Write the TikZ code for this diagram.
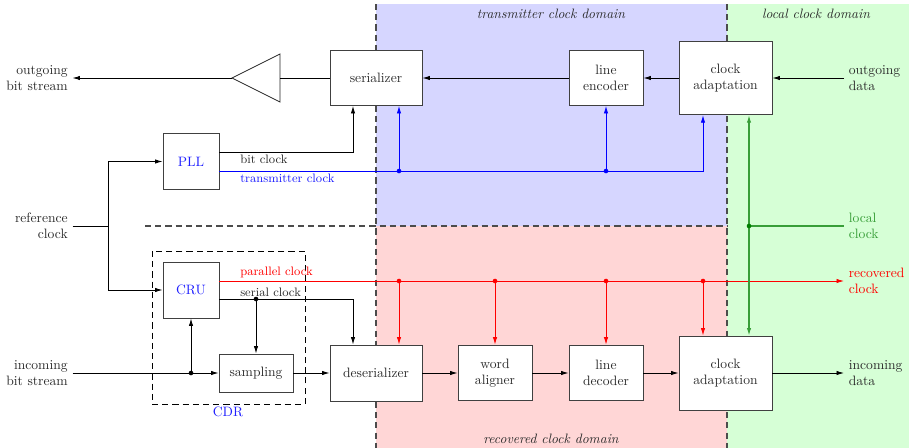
\documentclass[tikz,border=0pt]{standalone}
\usetikzlibrary{arrows.meta}
\definecolor{txtgray}{gray}{0.17}
\definecolor{lgreen}{rgb}{0.22,0.62,0.22}
\definecolor{dgreen}{rgb}{0.0,0.5,0.0}
\definecolor{bblue}{rgb}{0.12,0.12,1.0}
\tikzset{
  blk/.style={draw=black!75, line width=0.65pt, fill=white, align=center, text=txtgray, inner sep=0pt},
  wide/.style={blk, minimum width=67.6pt, minimum height=40.4pt},
  mid/.style={blk, minimum width=54.4pt, minimum height=41pt},
  small/.style={blk, minimum width=41.2pt, minimum height=40.8pt},
  adapt/.style={blk, minimum width=68.4pt, minimum height=54pt},
  ext/.style={align=left, text=txtgray},
  extr/.style={align=right, text=txtgray},
  sig/.style={font=\small, inner sep=0pt, anchor=west},
  arr/.style={semithick, -{Latex[length=5.5pt,width=3.2pt]}},
  biarr/.style={semithick, {Latex[length=5.5pt,width=3.2pt]}-{Latex[length=5.5pt,width=3.2pt]}},
  wire/.style={semithick},
  junction/.style={circle, fill, inner sep=0pt, minimum size=3.4pt},
  domline/.style={thick, black!70, dash pattern=on 4.5pt off 3pt},
  domlabel/.style={font=\itshape, text=txtgray},
}
\begin{document}
\begin{tikzpicture}[x=0.735pt,y=-0.735pt]
\useasboundingbox (0,0) rectangle (909,448);
% clock domain backgrounds
\fill[white] (0,0) rectangle (909,448);
\fill[blue!16] (376,4) rectangle (727,226);
\fill[red!16] (376,226) rectangle (727,448);
\fill[green!16] (727,4) rectangle (909,448);
\draw[domline] (376,4) -- (376,448);
\draw[domline] (727,4) -- (727,448);
\draw[domline] (145,226) -- (727,226);
\node[domlabel] (tdom) at (551,14) {transmitter clock domain};
\node[domlabel] (ldom) at (816,14) {local clock domain};
\node[domlabel] (rdom) at (551,439) {recovered clock domain};

% transmit path
\node[wide] (ser) at (376,78) {serializer};
\node[mid, minimum height=40.4pt] (lenc) at (606,78) {line\\encoder};
\node[adapt] (ca1) at (725.5,78) {clock\\adaptation};
\node[extr, anchor=east] (obs) at (72.5,78) {outgoing\\bit stream};
\node[ext, anchor=west] (odata) at (844,78) {outgoing\\data};
\draw[line width=0.65pt, black!85] (232,78) -- (280,54) -- (280,102) -- cycle;
\coordinate (amptip) at (232,78);
\coordinate (ampin) at (280,78);
\draw[arr] (odata.west) -- (ca1.east);
\draw[arr] (ca1.west) -- (lenc.east);
\draw[arr] (lenc.west) -- (ser.east);
\draw[wire] (ser.west) -- (ampin);
\draw[arr] (amptip) -- (obs.east);

% reference clock and PLL
\node[small, text=bblue] (pll) at (191,161.5) {PLL};
\node[extr, anchor=east] (ref) at (72.5,226) {reference\\clock};
\coordinate (refsplit) at (108,226);
\draw[wire] (ref.east) -- (refsplit);

% bit clock
\coordinate (bitc) at (353,152);
\draw[arr] (pll.east |- bitc) -- (bitc) -- (bitc |- ser.south);
\node[sig, text=txtgray] (bitlbl) at (240,159) {bit clock};

% transmitter clock
\coordinate (txc) at (703,171);
\coordinate (txd1) at (399,171);
\coordinate (txd2) at (606,171);
\draw[arr, blue] (pll.east |- txc) -- (txc) -- (txc |- ca1.south);
\draw[arr, blue] (txd1) -- (txd1 |- ser.south);
\draw[arr, blue] (txd2) -- (txd2 |- lenc.south);
\node[junction, blue] at (txd1) {};
\node[junction, blue] at (txd2) {};
\node[sig, text=bblue] (txlbl) at (240,178) {transmitter clock};

% receive path
\node[small, minimum height=41.2pt, text=bblue] (cru) at (191,290) {CRU};
\node[mid, minimum height=28pt] (samp) at (256,373) {sampling};
\node[wide, minimum height=41.2pt] (deser) at (376,373) {deserializer};
\node[mid] (wal) at (495,373) {word\\aligner};
\node[mid] (ldec) at (606,373) {line\\decoder};
\node[adapt, minimum height=54.4pt] (ca2) at (725.5,373) {clock\\adaptation};
\node[extr, anchor=east] (ibs) at (72.5,373) {incoming\\bit stream};
\node[ext, anchor=west] (idata) at (844,373) {incoming\\data};

% CDR frame
\draw[semithick, dash pattern=on 4.5pt off 3pt] (152,251) rectangle (305,404);
\node[text=bblue] (cdr) at (228,412) {CDR};

\draw[arr] (refsplit) |- (pll.west);
\draw[arr] (refsplit) |- (cru.west);

\coordinate (ibsplit) at (191,373);
\draw[arr] (ibs.east) -- (samp.west);
\draw[arr] (ibsplit) -- (cru.south);
\node[junction] at (ibsplit) {};
\draw[arr] (samp.east) -- (deser.west);
\draw[arr] (deser.east) -- (wal.west);
\draw[arr] (wal.east) -- (ldec.west);
\draw[arr] (ldec.east) -- (ca2.west);
\draw[arr] (ca2.east) -- (idata.west);

% serial clock
\coordinate (serc) at (353,299);
\coordinate (serd) at (256,299);
\draw[arr] (cru.east |- serc) -- (serc) -- (serc |- deser.north);
\draw[arr] (serd) -- (samp.north);
\node[junction] at (serd) {};
\node[sig, text=txtgray] (serlbl) at (240,292.5) {serial clock};

% parallel / recovered clock
\coordinate (pard1) at (399,281);
\coordinate (pard2) at (495,281);
\coordinate (pard3) at (606,281);
\coordinate (pard4) at (703,281);
\node[ext, anchor=west, text=red] (rec) at (844,281) {recovered\\clock};
\draw[arr, red] (cru.east |- pard1) -- (rec.west);
\draw[arr, red] (pard1) -- (pard1 |- deser.north);
\draw[arr, red] (pard2) -- (pard2 |- wal.north);
\draw[arr, red] (pard3) -- (pard3 |- ldec.north);
\draw[arr, red] (pard4) -- (pard4 |- ca2.north);
\foreach \d in {pard1,pard2,pard3,pard4} \node[junction, red] at (\d) {};
\node[sig, text=red] (parlbl) at (240,272) {parallel clock};

% local clock
\coordinate (locd) at (749,226);
\node[ext, anchor=west, text=lgreen] (loc) at (844,226) {local\\clock};
\draw[biarr, lgreen, thick] (locd |- ca1.south) -- (locd |- ca2.north);
\draw[wire, lgreen, thick] (locd) -- (loc.west);
\node[junction, dgreen] at (locd) {};
\end{tikzpicture}
\end{document}
